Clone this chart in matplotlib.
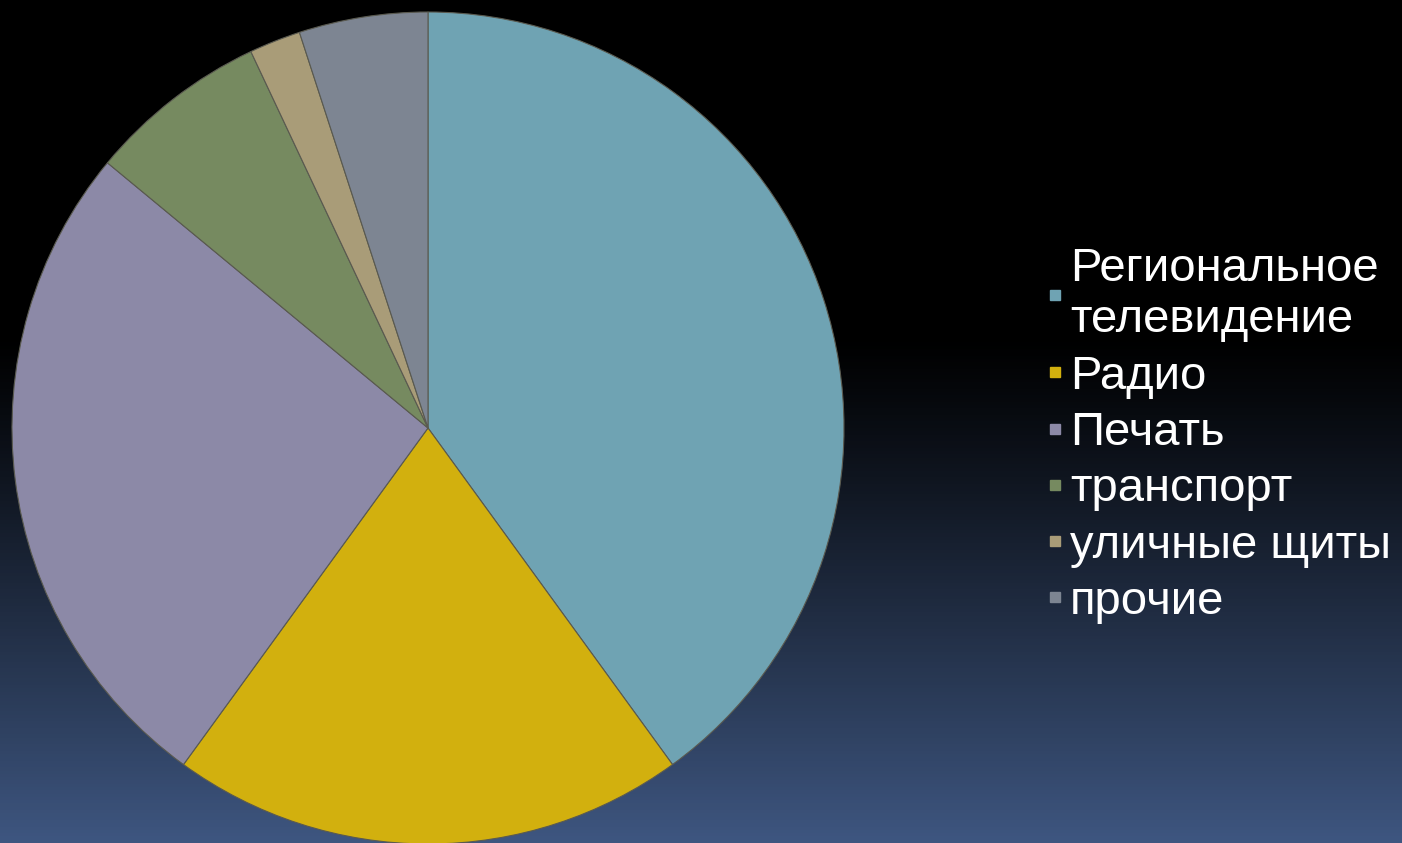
import numpy as np
import matplotlib
matplotlib.use("Agg")
import matplotlib.pyplot as plt
from matplotlib.lines import Line2D

# Chart data
labels = ["Региональное\nтелевидение", "Радио", "Печать", "транспорт", "уличные щиты", "прочие"]
shares = [40, 20, 26, 7, 2, 5]
colors = ["#6FA3B3", "#D2B00E", "#8C89A7", "#768A60", "#A99C78", "#7D8592"]

plt.rcParams['font.family'] = ['Liberation Sans', 'DejaVu Sans']

W, H = 1402, 843
fig = plt.figure(figsize=(W / 100, H / 100), dpi=100)

# Background gradient: black at top, slate blue at bottom
bg = fig.add_axes([0, 0, 1, 1])
t = np.linspace(0, 1, 256)[:, None]
ramp = np.clip((t - 0.4) / 0.6, 0, 1) ** 1.1
top = np.array([0, 0, 0])
bottom = np.array([62, 86, 128]) / 255
img = top + ramp[..., None] * (bottom - top)
img = np.repeat(img, 2, axis=1)
bg.imshow(img, aspect='auto', extent=[0, 1, 0, 1], origin='upper')
bg.axis('off')

# Pie axes, centred near (428, 428) px with radius ~416 px
cx, cy, r = 428, 428, 416
ax = fig.add_axes([(cx - r) / W, (H - cy - r) / H, 2 * r / W, 2 * r / H])
wedges, _ = ax.pie(shares, colors=colors, startangle=90, counterclock=False,
                   wedgeprops=dict(edgecolor='#5a5a50', linewidth=0.8))
ax.set_xlim(-1, 1)
ax.set_ylim(-1, 1)
ax.set_aspect('equal')
ax.axis('off')

# Legend with small square markers
handles = [Line2D([], [], marker='s', linestyle='none', markersize=7.8,
                  markerfacecolor=c, markeredgecolor=c) for c in colors]
leg = fig.legend(handles, labels, loc='upper left', bbox_to_anchor=(1048 / W, 1 - 247 / H),
                 frameon=False, fontsize=34, handlelength=0.3,
                 handletextpad=0.17, labelspacing=0.26, borderpad=0, borderaxespad=0)
for txt in leg.get_texts():
    txt.set_color('white')
    txt.set_linespacing(1.22)

fig.savefig("out.png", dpi=100)
